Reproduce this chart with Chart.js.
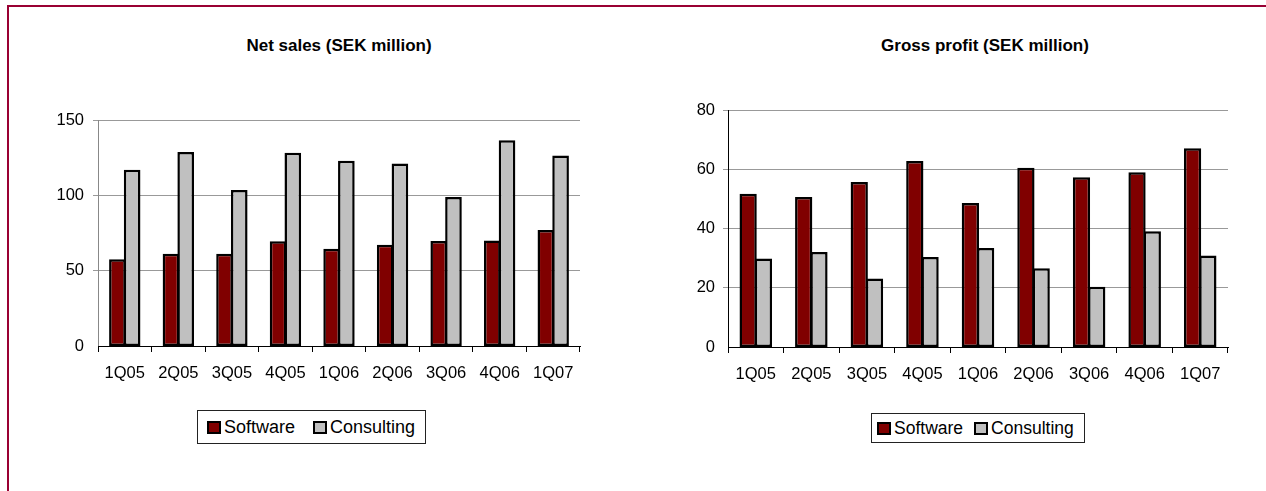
<!DOCTYPE html>
<html lang="en">
<head>
<meta charset="UTF-8">
<title>Net sales and gross profit</title>
<script src="https://cdn.jsdelivr.net/npm/chart.js"></script>
<style>
    body {
        margin: 0;
        width: 1266px;
        height: 491px;
        overflow: hidden;
        background: #fff;
        position: relative;
        font-family: Arial, 'Liberation Sans', sans-serif;
    }
    .frame {
        position: absolute;
        left: 7px;
        top: 5px;
        width: 1300px;
        height: 600px;
        border: 2px solid #990033;
    }
    .chart-title {
        position: absolute;
        font-weight: bold;
        font-size: 17px;
        line-height: 20px;
        white-space: nowrap;
        transform: translateX(-50%);
    }
    canvas { position: absolute; }
    .legend {
        position: absolute;
        box-sizing: border-box;
        border: 1px solid #222;
        display: flex;
        align-items: center;
        white-space: nowrap;
        color: #000;
    }
    .legend .swatch {
        display: inline-block;
        box-sizing: border-box;
        width: 14px;
        height: 13px;
        border: 2px solid #000;
        margin-right: 3px;
    }
</style>
</head>
<body>
<div class="frame"></div>

<div class="chart-title" style="left:339px; top:36px;">Net sales (SEK million)</div>
<div class="chart-title" style="left:985px; top:36px;">Gross profit (SEK million)</div>

<canvas id="salesChart" width="600" height="371" style="left:20px; top:15px;"></canvas>
<canvas id="profitChart" width="610" height="372" style="left:650px; top:15px;"></canvas>

<div class="legend" id="salesLegend" style="left:197px; top:410px; width:229px; height:34px; padding-left:9px; font-size:18px;"></div>
<div class="legend" id="profitLegend" style="left:871px; top:413px; width:214px; height:30px; padding-left:5px; font-size:17.5px;"></div>

<script>
    // data
    const quarters = ['1Q05', '2Q05', '3Q05', '4Q05', '1Q06', '2Q06', '3Q06', '4Q06', '1Q07'];
    const seriesNames = ['Software', 'Consulting'];
    const seriesColors = ['#800000', '#C0C0C0'];

    const salesSoftware = [57.5, 61.3, 61.3, 69.5, 64.5, 67.2, 69.7, 70.1, 77.0];
    const salesConsulting = [117.0, 128.7, 103.5, 128.3, 123.0, 121.2, 98.9, 136.5, 126.5];
    const salesTicks = { max: 150, step: 50 };

    const profitSoftware = [51.7, 50.6, 55.7, 62.8, 48.6, 60.5, 57.3, 59.0, 67.1];
    const profitConsulting = [29.9, 32.1, 23.1, 30.4, 33.4, 26.6, 20.3, 39.1, 30.9];
    const profitTicks = { max: 80, step: 20 };

    const tickFont = { family: "Arial, 'Liberation Sans', sans-serif", size: 16.5 };

    function makeChart(id, seriesValues, ticks, opts) {
        // bars a bit wider than their slot so neighbours share one border line
        const datasets = seriesValues.map((values, i) => ({
            label: seriesNames[i],
            data: values,
            backgroundColor: seriesColors[i],
            borderColor: '#000',
            borderWidth: 2.5,
            borderSkipped: false,
            inflateAmount: 0,
            categoryPercentage: 0.55,
            barPercentage: 1.13
        }));

        return new Chart(document.getElementById(id), {
            type: 'bar',
            data: { labels: quarters, datasets: datasets },
            options: {
                responsive: false,
                animation: false,
                events: [],
                layout: { padding: { left: 0, right: opts.padRight, top: opts.padTop, bottom: 0 } },
                plugins: {
                    legend: { display: false },
                    title: { display: false },
                    tooltip: { enabled: false }
                },
                scales: {
                    x: {
                        grid: { drawOnChartArea: false, drawTicks: true, tickLength: 6, color: '#000' },
                        border: { color: '#000', width: 1 },
                        ticks: { color: '#000', font: tickFont, padding: 12, maxRotation: 0 },
                        afterFit: (scale) => { scale.height = 40; }
                    },
                    y: {
                        min: 0,
                        max: ticks.max,
                        grid: {
                            color: '#999',
                            tickLength: 5,
                            // no zero line, so bars sit right on the x axis
                            lineWidth: (ctx) => (ctx.tick && ctx.tick.value === 0 ? 0 : 1)
                        },
                        border: { color: opts.yAxisColor, width: 1 },
                        ticks: { stepSize: ticks.step, color: '#000', font: tickFont, padding: opts.yPad },
                        afterFit: (scale) => { scale.width = 78; }
                    }
                }
            }
        });
    }

    function makeLegend(id, gap) {
        const box = document.getElementById(id);
        seriesNames.forEach((name, i) => {
            const item = document.createElement('span');
            item.style.display = 'inline-flex';
            item.style.alignItems = 'center';
            if (i > 0) item.style.marginLeft = gap + 'px';
            item.innerHTML = '<span class="swatch" style="background:' + seriesColors[i] + '"></span>' + name;
            box.appendChild(item);
        });
    }

    makeChart('salesChart', [salesSoftware, salesConsulting], salesTicks,
        { padRight: 40, padTop: 105, yPad: 9, yAxisColor: '#888' });
    makeChart('profitChart', [profitSoftware, profitConsulting], profitTicks,
        { padRight: 32, padTop: 95, yPad: 8, yAxisColor: '#000' });

    makeLegend('salesLegend', 18);
    makeLegend('profitLegend', 11);
</script>
</body>
</html>
